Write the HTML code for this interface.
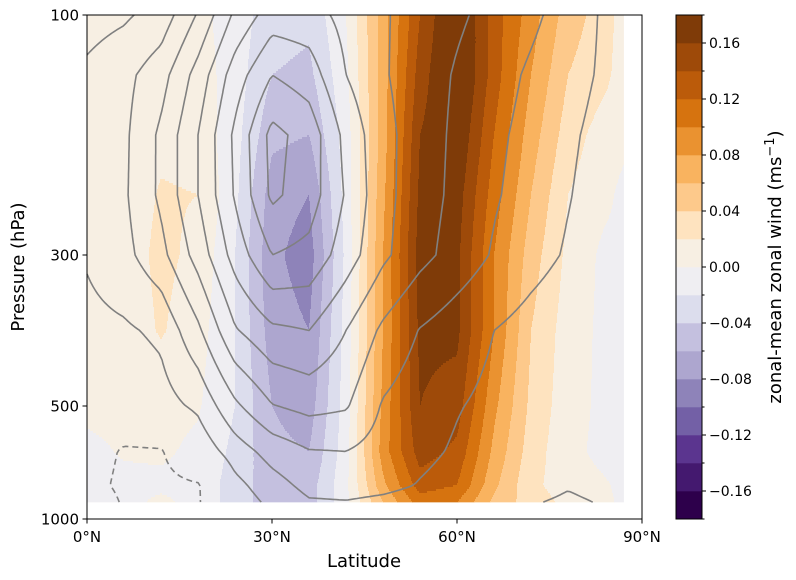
<!DOCTYPE html>
<html><head><meta charset="utf-8"><style>
body{margin:0;background:#fff;}
svg{display:block;font-family:"DejaVu Sans","Liberation Sans",sans-serif;}
</style></head><body>
<svg id="chart" width="796" height="580" viewBox="0 0 796 580">
<g id="fill"></g>
<g id="lines"></g>
<rect x="87" y="15" width="555" height="504" fill="none" stroke="#000" stroke-width="1"/>
<g id="axes"></g>
<g id="cbar"></g>
<text x="364" y="567" font-size="18" text-anchor="middle">Latitude</text>
<text transform="translate(24,267) rotate(-90)" font-size="18" text-anchor="middle">Pressure (hPa)</text>
<text transform="translate(781,267) rotate(-90)" font-size="18" text-anchor="middle">zonal-mean zonal wind (ms<tspan dy="-7" font-size="13">−1</tspan><tspan dy="7">)</tspan></text>
</svg>
<script>
const lats=[0,6,12,18,24,30,36,42,48,54,60,66,72,78,84,87];
const plev=[100,150,200,250,300,400,500,700,850,925];
const wind=[
[.008,.008,.008,.006,-.01,-.03,-.035,.00,.07,.14,.19,.13,.09,.05,.03,.01],
[.008,.008,.01,.01,-.01,-.04,-.045,-.005,.07,.15,.19,.13,.08,.04,.025,.01],
[.008,.008,.015,.012,-.012,-.055,-.06,-.01,.07,.16,.18,.12,.07,.03,.01,.005],
[.006,.008,.022,.02,-.015,-.07,-.08,-.012,.075,.165,.17,.11,.06,.02,.005,-.005],
[.006,.01,.025,.015,-.02,-.075,-.09,-.015,.08,.17,.165,.10,.05,.015,-.005,-.005],
[.006,.008,.022,.008,-.02,-.07,-.08,-.012,.08,.165,.165,.10,.04,.01,-.005,-.005],
[.005,.006,.006,.002,-.02,-.06,-.07,-.01,.085,.16,.15,.085,.035,.008,-.005,-.005],
[-.005,.002,.003,-.004,-.025,-.055,-.06,-.008,.09,.15,.135,.075,.03,.006,-.006,-.006],
[-.006,-.005,-.004,-.006,-.03,-.05,-.05,-.005,.075,.13,.12,.065,.025,.01,.002,-.005],
[-.006,-.006,.004,-.006,-.03,-.05,-.05,-.005,.06,.11,.10,.055,.03,.015,.005,-.005]];
const psi=[
[0.6,0.85,1.4,3.1,5.2,6.5,6.4,5.7,5.1,4.6,4.15,3.7,3.2,2.6,1.85,1.6],
[1.2,1.7,2.6,4.4,6.5,8.0,7.5,6.0,5.1,4.5,3.9,3.4,2.85,2.35,1.85,1.6],
[1.5,1.8,3.2,5.0,7.2,9.3,8.6,6.7,5.3,4.5,3.8,3.2,2.7,2.15,1.7,1.5],
[1.5,1.85,3.2,5.0,7.1,9.2,8.5,6.9,5.3,4.45,3.75,3.1,2.6,2.05,1.6,1.45],
[1.1,1.7,2.7,4.4,6.4,8.0,7.7,6.5,5.2,4.3,3.6,2.9,2.35,1.9,1.6,1.5],
[0.7,0.85,1.2,2.8,4.9,5.8,6.0,5.0,3.8,2.95,2.45,2.0,1.65,1.35,1.3,1.3],
[0.3,0.2,0.6,1.2,2.8,3.95,4.3,4.1,2.9,2.4,2.05,1.8,1.5,1.25,1.3,1.3],
[-0.3,-1.15,-1.1,0.3,1.5,2.4,2.95,3.0,2.6,2.2,1.9,1.6,1.35,1.2,1.3,1.3],
[-0.5,-1.3,-1.35,-1.1,0.7,1.6,2.3,2.4,2.25,1.95,1.7,1.45,1.25,1.05,1.2,1.2],
[0.0,-1.15,-1.25,-1.1,0.4,1.25,1.9,1.95,1.8,1.6,1.4,1.25,1.05,0.9,1.05,1.1]];
const psiLevels=[-1,1,2,3,4,5,6,7,8,9];
const cbTicks=[-0.16,-0.12,-0.08,-0.04,0.00,0.04,0.08,0.12,0.16];
const colors=['#2d004b','#44196f','#5b358f','#7360a6','#8e83b9','#ada6cf','#c4c0df','#dcdded','#efeef2','#f7efe3','#fee3bf','#fdc98b','#f9b35f','#ea9230','#d6730f','#bb5b0a','#9e4a09','#7f3b08'];
const xTicks=[0,30,60,90];
const yTicks=[100,300,500,1000];

const NS='http://www.w3.org/2000/svg';
function mk(t,a,p){const e=document.createElementNS(NS,t);for(const k in a)e.setAttribute(k,a[k]);if(p)p.appendChild(e);return e;}
function px(lat){return 87+lat*555/90;}
const pAx=[100,300,500,1000],yAx=[15,255,406,519];
function py(p){for(let i=0;i<3;i++){if(p<=pAx[i+1]||i==2){return yAx[i]+(p-pAx[i])/(pAx[i+1]-pAx[i])*(yAx[i+1]-yAx[i]);}}}
const rowY=plev.map(py);
function interp(arr,x,y){
  const lat=(x-87)*90/555;
  let i=0;while(i<lats.length-2&&lat>lats[i+1])i++;
  let tx=(lat-lats[i])/(lats[i+1]-lats[i]);tx=Math.max(0,Math.min(1,tx));
  let j=0;while(j<rowY.length-2&&y>rowY[j+1])j++;
  let ty=(y-rowY[j])/(rowY[j+1]-rowY[j]);ty=Math.max(0,Math.min(1,ty));
  const a=arr[j][i],b=arr[j][i+1],c=arr[j+1][i],d=arr[j+1][i+1];
  return (a*(1-tx)+b*tx)*(1-ty)+(c*(1-tx)+d*tx)*ty;
}
const X0=px(0),X1=px(lats[lats.length-1]),Y0=rowY[0],Y1=rowY[rowY.length-1];
const fillG=document.getElementById('fill');
for(let y=Y0;y<Y1;y+=2){
  let start=X0,cur=-1;
  const h=Math.min(2,Y1-y);
  for(let x=X0;x<=X1+0.5;x+=1){
    let bin=-2;
    if(x<X1+0.5){const v=interp(wind,Math.min(x+0.5,X1),y+h/2);bin=Math.max(0,Math.min(17,Math.floor((v+0.18)/0.02)));}
    if(bin!==cur){
      if(cur>=0){const r=mk('rect',{x:start.toFixed(1),y:y,width:(Math.min(x,X1)-start+0.4).toFixed(1),height:h+0.3,fill:colors[cur]},fillG);
        
        }
      start=x;cur=bin;
    }
  }
}
const linesG=document.getElementById('lines');
const s=3;
const xs=[],ys=[];
for(let x=X0;x<X1;x+=s)xs.push(x);xs.push(X1);
for(let y=Y0;y<Y1;y+=s)ys.push(y);ys.push(Y1);
const F=ys.map(y=>xs.map(x=>interp(psi,x,y)));
psiLevels.forEach(L=>{
  const segs=[];
  const P=(xa,ya,va,xb,yb,vb)=>{const t=(L-va)/(vb-va);return [xa+(xb-xa)*t,ya+(yb-ya)*t];};
  for(let j=0;j<ys.length-1;j++)for(let i=0;i<xs.length-1;i++){
    const x0=xs[i],x1=xs[i+1],y0=ys[j],y1=ys[j+1];
    const a=F[j][i],b=F[j][i+1],c=F[j+1][i+1],e=F[j+1][i];
    const pts=[];
    if((a<L)!==(b<L))pts.push(P(x0,y0,a,x1,y0,b));
    if((b<L)!==(c<L))pts.push(P(x1,y0,b,x1,y1,c));
    if((c<L)!==(e<L))pts.push(P(x1,y1,c,x0,y1,e));
    if((e<L)!==(a<L))pts.push(P(x0,y1,e,x0,y0,a));
    for(let k=0;k+1<pts.length;k+=2)segs.push([pts[k],pts[k+1]]);
  }
  // chain segments into polylines
  const key=p=>p[0].toFixed(2)+','+p[1].toFixed(2);
  const map={};
  segs.forEach((sg,idx)=>{[0,1].forEach(e=>{const k=key(sg[e]);(map[k]=map[k]||[]).push(idx);});});
  const used=new Array(segs.length).fill(false);
  let d='';
  const extend=(line,end)=>{
    while(true){const k=key(end());const c=(map[k]||[]).find(q=>!used[q]);if(c===undefined)break;
      used[c]=true;const sg=segs[c];const nxt=key(sg[0])===k?sg[1]:sg[0];line.push(nxt);}
  };
  for(let n=0;n<segs.length;n++){
    if(used[n])continue;used[n]=true;
    let line=[segs[n][0],segs[n][1]];
    extend(line,()=>line[line.length-1]);
    line.reverse();
    extend(line,()=>line[line.length-1]);
    d+='M'+line.map(p=>p[0].toFixed(1)+' '+p[1].toFixed(1)).join('L');
  }
  const path=mk('path',{d:d,fill:'none',stroke:'#808080','stroke-width':1.6,'stroke-linejoin':'round'},linesG);
  if(L<0){path.setAttribute('stroke-dasharray','6 4');}
  
  
});
const ax=document.getElementById('axes');
xTicks.forEach(t=>{const x=px(t);
  const l=mk('line',{x1:x,x2:x,y1:519,y2:523.5,stroke:'#000'},ax);
  
  
  const tx=mk('text',{x:x,y:542,'font-size':15,'text-anchor':'middle'},ax);tx.textContent=t+'°N';
  
  });
yTicks.forEach(t=>{const y=py(t);
  const l=mk('line',{x1:82.5,x2:87,y1:y,y2:y,stroke:'#000'},ax);
  
  
  const tx=mk('text',{x:79,y:y+5.5,'font-size':15,'text-anchor':'end'},ax);tx.textContent=t;
  
  });
const cb=document.getElementById('cbar');
const cbX=676,cbW=26,cbTop=15,cbH=504,bh=cbH/colors.length;
colors.forEach((c,k)=>{const r=mk('rect',{x:cbX,y:cbTop+cbH-(k+1)*bh,width:cbW,height:bh+0.3,fill:c},cb);
  
  });
mk('rect',{x:cbX,y:cbTop,width:cbW,height:cbH,fill:'none',stroke:'#000','stroke-width':1},cb);
for(let k=0;k<=colors.length;k++){const y=cbTop+cbH-k*bh;
  const l=mk('line',{x1:cbX+cbW,x2:cbX+cbW+(k%2===1?4:2.5),y1:y,y2:y,stroke:'#000'},cb);
  
  }
cbTicks.forEach(t=>{const y=cbTop+cbH-(t+0.18)/0.36*cbH;
  const tx=mk('text',{x:709,y:y+5,'font-size':14},cb);tx.textContent=(t<0?'−':'')+Math.abs(t).toFixed(2);
  
  });
</script>
</body></html>
